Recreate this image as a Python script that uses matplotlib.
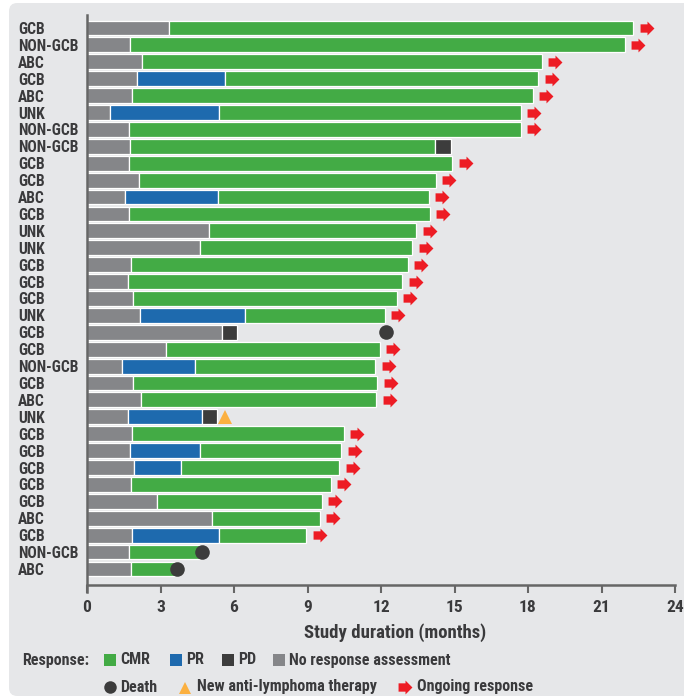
import matplotlib
matplotlib.use("Agg")
import matplotlib.pyplot as plt
from matplotlib.patches import FancyBboxPatch, Rectangle
from matplotlib.path import Path
import matplotlib.font_manager as fm

# ---------------- data ----------------
labels = ['GCB', 'NON-GCB', 'ABC', 'GCB', 'ABC', 'UNK', 'NON-GCB', 'NON-GCB', 'GCB', 'GCB',
          'ABC', 'GCB', 'UNK', 'UNK', 'GCB', 'GCB', 'GCB', 'UNK', 'GCB', 'GCB',
          'NON-GCB', 'GCB', 'ABC', 'UNK', 'GCB', 'GCB', 'GCB', 'GCB', 'GCB', 'ABC',
          'GCB', 'NON-GCB', 'ABC']
no_resp_end = [3.35, 1.74, 2.23, 2.04, 1.82, 0.94, 1.71, 1.74, 1.71, 2.12,
               1.55, 1.71, 4.98, 4.60, 1.81, 1.67, 1.88, 2.16, 5.51, 3.22,
               1.43, 1.88, 2.20, 1.67, 1.82, 1.76, 1.92, 1.81, 2.86, 5.10,
               1.84, 1.71, 1.78]
pr_end = [None, None, None, 5.63, None, 5.39, None, None, None, None,
          5.35, None, None, None, None, None, None, 6.45, None, None,
          4.41, None, None, 4.69, None, 4.61, 3.84, None, None, None,
          5.39, None, None]
cmr_end = [22.29, 21.96, 18.57, 18.41, 18.20, 17.71, 17.71, 14.20, 14.90, 14.24,
           13.96, 14.00, 13.43, 13.27, 13.10, 12.86, 12.65, 12.16, None, 11.96,
           11.76, 11.84, 11.80, None, 10.49, 10.37, 10.29, 9.96, 9.59, 9.51,
           8.94, 4.69, 3.67]
pd_end = {7: 14.86, 18: 6.12, 23: 5.31}
death = {18: 12.2, 31: 4.69, 32: 3.67}
new_therapy = {23: 5.65}
ongoing = [True, True, True, True, True, True, True, False, True, True,
           True, True, True, True, True, True, True, True, False, True,
           True, True, True, False, True, True, True, True, True, True,
           True, False, False]
xticks = [0, 3, 6, 9, 12, 15, 18, 21, 24]

# ---------------- style ----------------
GREEN = '#43ab45'
BLUE = '#1e6aae'
GRAY = '#858689'
PD = '#3c3c3c'
RED = '#ed1c24'
ORANGE = '#fbb040'
BG = '#e6e7e9'
TXT = '#3a3a3c'
AX = '#666666'

# pick a condensed bold font if one is installed
ents = fm.fontManager.ttflist
names = {f.name for f in ents}
stretch = 'normal'
chosen = None
for cand in ['Roboto Condensed', 'Liberation Sans Narrow', 'Arial Narrow', 'PT Sans Narrow',
             'Archivo Narrow', 'Fira Sans Condensed', 'IBM Plex Sans Condensed',
             'Open Sans Condensed', 'Barlow Condensed', 'Noto Sans Condensed']:
    if cand in names:
        chosen = cand
        break
if chosen is None:
    for f in ents:
        if f.name == 'Roboto' and str(f.stretch) in ('condensed', 'semi-condensed', '87.5', '75'):
            chosen = 'Roboto'
            stretch = 'condensed'
            break
if chosen is None:
    chosen = 'Roboto'
plt.rcParams['font.family'] = [chosen, 'DejaVu Sans']
plt.rcParams['font.stretch'] = stretch
plt.rcParams['font.weight'] = 'bold'

W, H = 684, 699
fig = plt.figure(figsize=(W / 100, H / 100), dpi=100, facecolor='white')

panel = FancyBboxPatch((9 / W, 3 / H), (W - 9) / W + 0.02, (H - 5 - 1) / H,
                       boxstyle="round,pad=0,rounding_size=0.012",
                       transform=fig.transFigure, facecolor=BG, edgecolor='none', zorder=-10)
fig.patches.append(panel)

ax = fig.add_axes([87 / W, (H - 585) / H, (675 - 87) / W, (585 - 15) / H])
ax.set_facecolor('none')

arrow_path = Path([(-1, -0.6), (0, -0.6), (0, -1), (1, 0), (0, 1), (0, 0.6), (-1, 0.6), (-1, -0.6)],
                  [Path.MOVETO] + [Path.LINETO] * 6 + [Path.CLOSEPOLY])

n = len(labels)
bh = 0.88
for i in range(n):
    segs = [(0, no_resp_end[i], GRAY)]
    cur = no_resp_end[i]
    if pr_end[i] is not None:
        segs.append((cur, pr_end[i], BLUE))
        cur = pr_end[i]
    if cmr_end[i] is not None:
        segs.append((cur, cmr_end[i], GREEN))
        cur = cmr_end[i]
    if i in pd_end:
        segs.append((cur, pd_end[i], PD))
        cur = pd_end[i]
    for s, e, c in segs:
        ax.barh(i, e - s, left=s, height=bh, color=c, edgecolor='white', linewidth=0.9, zorder=2)
    if ongoing[i]:
        ax.plot(cur + 0.55, i, marker=arrow_path, markersize=10, color=RED,
                markeredgewidth=0, linestyle='none', zorder=4, clip_on=False)
    if i in death:
        ax.plot(death[i], i, marker='o', markersize=10.5, color=PD, markeredgewidth=0,
                linestyle='none', zorder=4)
    if i in new_therapy:
        ax.plot(new_therapy[i], i, marker='^', markersize=10, color=ORANGE, markeredgewidth=0,
                linestyle='none', zorder=4)

ax.set_xlim(0, 24)
ax.set_ylim(n - 1 + 0.95, -0.77)
ax.set_yticks(range(n))
ax.set_yticklabels(labels, fontsize=11.2, color=TXT, fontweight='bold')
for lab in ax.get_yticklabels():
    lab.set_horizontalalignment('left')
ax.tick_params(axis='y', length=0, pad=69 * 0.72)
ax.set_xticks(xticks)
ax.set_xticklabels([str(t) for t in xticks], fontsize=12.5, color=TXT, fontweight='bold')
ax.tick_params(axis='x', length=6, width=1.5, color=AX, pad=5)
ax.set_xlabel('Study duration (months)', fontsize=13.5, color=TXT, fontweight='bold', labelpad=6,
              x=(395 - 87) / (675 - 87))
for sp in ['top', 'right']:
    ax.spines[sp].set_visible(False)
for sp in ['left', 'bottom']:
    ax.spines[sp].set_color(AX)
    ax.spines[sp].set_linewidth(1.8)
    ax.spines[sp].set_zorder(5)
ax.spines['left'].set_bounds(n - 1 + 0.95 + 0.4, -0.77)

# ---------------- legend ----------------
def fx(px):
    return px / W

def fy(py):
    return 1 - py / H

y1, y2 = 660, 687
fs = 11.5
fig.text(fx(22), fy(y1), 'Response:', fontsize=fs, color=TXT, fontweight='bold', va='center', ha='left')
items = [(104, GREEN, 'CMR'), (170, BLUE, 'PR'), (222, PD, 'PD'), (273, GRAY, 'No response assessment')]
for x, c, t in items:
    fig.patches.append(Rectangle((fx(x), fy(y1 + 6)), 12 / W, 12 / H, transform=fig.transFigure,
                                 facecolor=c, edgecolor='none'))
    fig.text(fx(x + 16), fy(y1), t, fontsize=fs, color=TXT, fontweight='bold', va='center', ha='left')

lax = fig.add_axes([0, 0, 1, 1], facecolor='none')
lax.set_xlim(0, W)
lax.set_ylim(H, 0)
lax.axis('off')
lax.plot(110, y2, marker='o', markersize=9, color=PD, markeredgewidth=0, linestyle='none')
fig.text(fx(120), fy(y2), 'Death', fontsize=fs, color=TXT, fontweight='bold', va='center', ha='left')
lax.plot(185, y2 + 0.5, marker='^', markersize=9, color=ORANGE, markeredgewidth=0, linestyle='none')
fig.text(fx(197), fy(y2), 'New anti-lymphoma therapy', fontsize=fs, color=TXT, fontweight='bold',
         va='center', ha='left')
lax.plot(405, y2, marker=arrow_path, markersize=10, color=RED, markeredgewidth=0, linestyle='none')
fig.text(fx(417), fy(y2), 'Ongoing response', fontsize=fs, color=TXT, fontweight='bold', va='center', ha='left')

fig.savefig('out.png', dpi=100, facecolor='white')
